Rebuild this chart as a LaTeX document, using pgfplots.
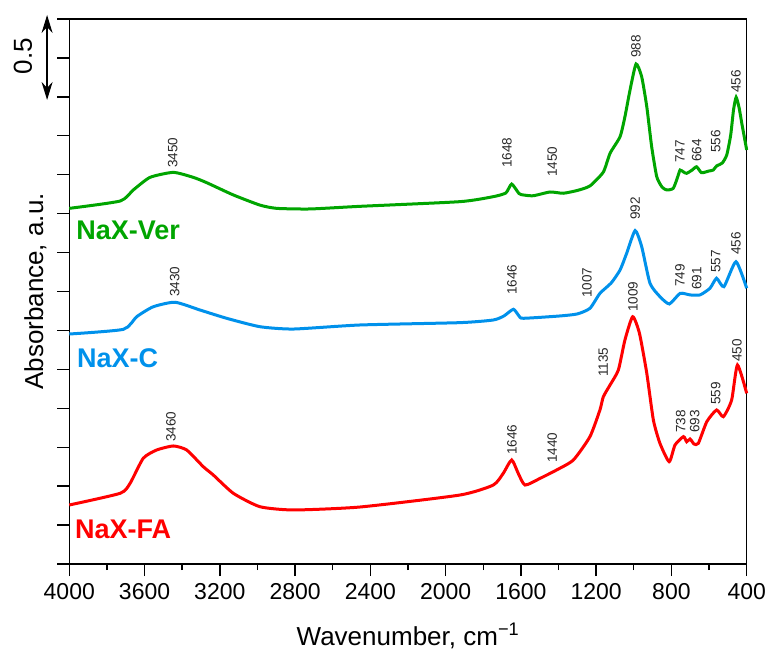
\documentclass[border=0pt]{standalone}
\usepackage{fontspec}
\setmainfont{Liberation Sans}
\usepackage{pgfplots}
\pgfplotsset{compat=1.18}
\usetikzlibrary{arrows.meta}
\definecolor{cgreen}{RGB}{0,165,0}
\definecolor{cblue}{RGB}{0,145,235}
\definecolor{cred}{RGB}{255,0,0}
\definecolor{lbl}{RGB}{40,40,40}
\tikzset{
  peak/.style={rotate=90, anchor=west, inner sep=0pt, text=lbl, font=\fontsize{13.5}{13.5}\selectfont},
  sname/.style={anchor=base west, inner sep=0pt, font=\fontsize{27}{27}\selectfont\bfseries},
}
\begin{document}
\begin{tikzpicture}
\useasboundingbox (-69.3pt,-85pt) rectangle (698.7pt,564pt);
\begin{axis}[
  scale only axis, width=677.4pt, height=545pt,
  x dir=reverse, xmin=400, xmax=4000, ymin=0, ymax=3.5,
  xtick={400,800,...,4000}, minor xtick={600,1000,...,3800},
  ytick={0,0.25,0.5,0.75,1,1.25,1.5,1.75,2,2.25,2.5,2.75,3,3.25,3.5},
  yticklabels={},
  xtick pos=bottom, ytick pos=left,
  tick align=outside, major tick length=12pt, minor tick length=6pt,
  axis line style={line width=1.4pt},
  every tick/.style={black, line width=1.4pt},
  /pgf/number format/assume math mode=true,
  /pgf/number format/1000 sep={},
  tick label style={font=\fontsize{23}{23}\selectfont},
  xticklabel style={yshift=-4pt},
  xlabel={Wavenumber, cm\textsuperscript{−1}},
  ylabel={Absorbance, a.u.},
  label style={font=\fontsize{26}{26}\selectfont},
  xlabel style={at={(axis description cs:0.5,0)}, anchor=base, yshift=-81pt},
  ylabel style={at={(axis description cs:-0.0388,0.5)}, anchor=base},
  clip=false,
]
% NaX-Ver
\addplot[cgreen, line width=3pt, smooth, tension=0.35] coordinates {
(4000,2.284) (3730,2.331) (3660,2.402) (3571,2.483) (3447,2.515) (3341,2.483)
(3270,2.449) (3128,2.370) (2987,2.305) (2898,2.284) (2721,2.280) (2455,2.297)
(1924,2.327) (1747,2.359) (1680,2.383) (1649,2.440) (1610,2.379) (1587,2.370)
(1534,2.365) (1445,2.389) (1375,2.381) (1300,2.399) (1233,2.428) (1162,2.517)
(1126,2.638) (1073,2.744) (1047,2.873) (1020,3.044) (988,3.211) (958,3.129)
(931,2.937) (905,2.680) (878,2.487) (850,2.421) (825,2.402) (790,2.413)
(765,2.492) (754,2.530) (735,2.517) (719,2.509) (690,2.530) (666,2.551)
(640,2.513) (600,2.524) (578,2.530) (560,2.556) (530,2.575) (506,2.627)
(485,2.755) (470,2.916) (456,2.997) (440,2.928) (426,2.830) (400,2.659)
};
% NaX-C
\addplot[cblue, line width=3pt, smooth, tension=0.35] coordinates {
(4000,1.477) (3713,1.507) (3642,1.588) (3554,1.652) (3438,1.681) (3305,1.631)
(3164,1.578) (2987,1.524) (2809,1.509) (2455,1.535) (1924,1.550) (1747,1.567)
(1690,1.593) (1640,1.636) (1610,1.593) (1587,1.578) (1392,1.593) (1300,1.606)
(1233,1.642) (1180,1.738) (1120,1.805) (1073,1.888) (1038,1.995) (993,2.141)
(958,2.038) (914,1.803) (861,1.717) (811,1.670) (754,1.738) (701,1.728)
(648,1.728) (595,1.771) (560,1.835) (521,1.781) (457,1.941) (400,1.771)
};
% NaX-FA
\addplot[cred, line width=3pt, smooth, tension=0.35] coordinates {
(4000,0.379) (3730,0.454) (3677,0.518) (3607,0.679) (3536,0.732) (3447,0.758)
(3376,0.732) (3288,0.625) (3235,0.572) (3128,0.454) (2987,0.368) (2809,0.347)
(2455,0.366) (1924,0.443) (1747,0.507) (1694,0.582) (1649,0.668) (1614,0.582)
(1578,0.507) (1498,0.550) (1410,0.604) (1321,0.668) (1233,0.818) (1180,0.989)
(1162,1.074) (1126,1.150) (1082,1.246) (1047,1.439) (1006,1.588) (970,1.482)
(931,1.225) (896,0.925) (861,0.775) (812,0.657) (781,0.764) (736,0.818)
(719,0.785) (701,0.803) (680,0.771) (657,0.775) (612,0.914) (560,0.989)
(524,0.946) (480,1.053) (449,1.278) (400,1.096)
};
% peak labels
\node[peak] at (axis cs:3450,2.543) {3450};
\node[peak] at (axis cs:1674,2.543) {1648};
\node[peak] at (axis cs:1434,2.485) {1450};
\node[peak] at (axis cs:988,3.250) {988};
\node[peak] at (axis cs:755,2.575) {747};
\node[peak] at (axis cs:665,2.582) {664};
\node[peak] at (axis cs:564,2.639) {556};
\node[peak] at (axis cs:457,3.025) {456};
\node[peak] at (axis cs:3440,1.715) {3430};
\node[peak] at (axis cs:1647,1.728) {1646};
\node[peak] at (axis cs:1249,1.708) {1007};
\node[peak] at (axis cs:993,2.209) {992};
\node[peak] at (axis cs:755,1.779) {749};
\node[peak] at (axis cs:665,1.760) {691};
\node[peak] at (axis cs:564,1.869) {557};
\node[peak] at (axis cs:457,1.984) {456};
\node[peak] at (axis cs:3460,0.783) {3460};
\node[peak] at (axis cs:1647,0.700) {1646};
\node[peak] at (axis cs:1434,0.649) {1440};
\node[peak] at (axis cs:1163,1.201) {1135};
\node[peak] at (axis cs:1005,1.618) {1009};
\node[peak] at (axis cs:750,0.841) {738};
\node[peak] at (axis cs:676,0.841) {693};
\node[peak] at (axis cs:564,1.021) {559};
\node[peak] at (axis cs:452,1.297) {450};
% series names
\node[sname, text=cgreen] at (axis cs:3964,2.081) {NaX-Ver};
\node[sname, text=cblue] at (axis cs:3960,1.265) {NaX-C};
\node[sname, text=cred] at (axis cs:3970,0.167) {NaX-FA};
% scale bar
\draw[line width=1.6pt, {Stealth[length=18pt,width=11pt]}-{Stealth[length=18pt,width=11pt]}]
  (axis cs:4118,3.526) -- (axis cs:4118,2.980);
\node[rotate=90, inner sep=0pt, font=\fontsize{26}{26}\selectfont] at (axis cs:4246,3.262) {0.5};
\end{axis}
\end{tikzpicture}
\end{document}
